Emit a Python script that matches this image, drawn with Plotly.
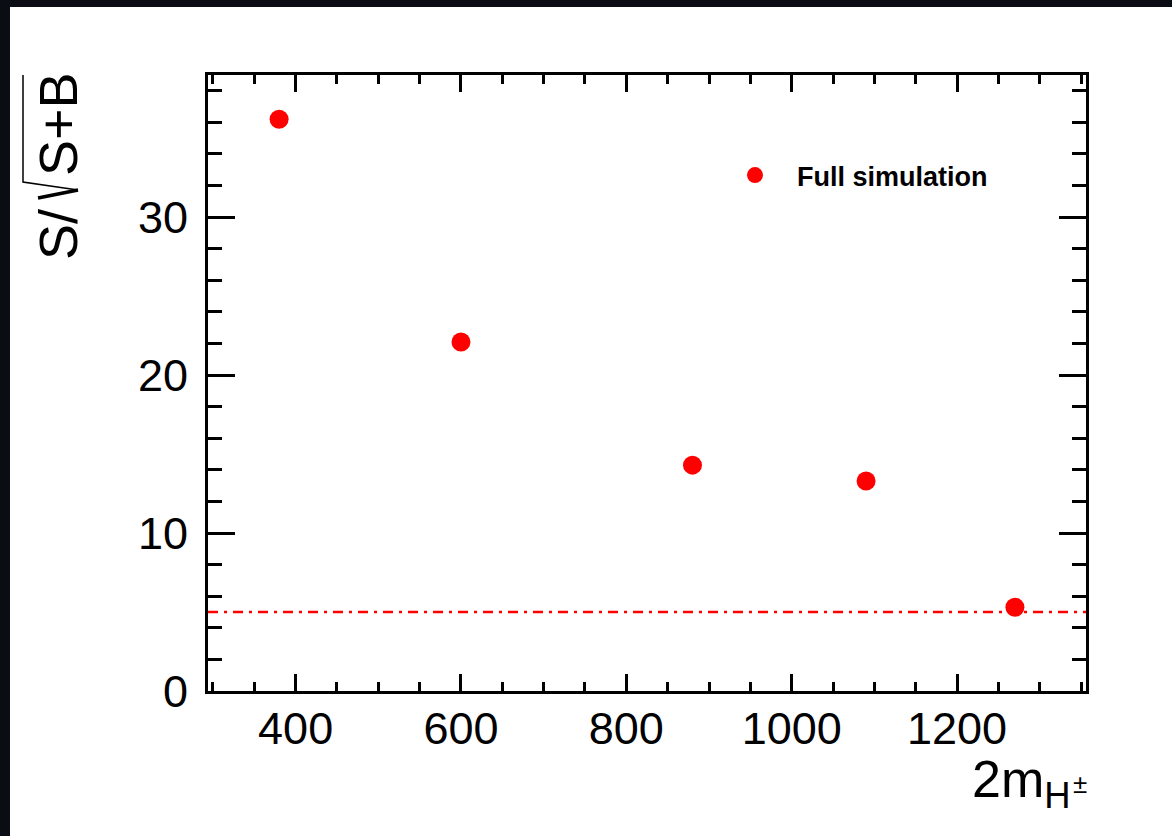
import plotly.graph_objects as go

# ---- data ----
mass = [380, 600, 880, 1090, 1270]
significance = [36.2, 22.1, 14.3, 13.3, 5.3]
threshold = 5.0
series_name = "Full simulation"
x_range = [294, 1356]
y_range = [0, 39]
x_major_step = 200
x_minor_step = 50
y_major_step = 10
y_minor_step = 2
x_title_main = "2m<sub>H</sub>"
x_title_sup = "±"
y_title_left = "S/"
y_title_right = "S+B"

# ---- layout geometry (pixels) ----
W, H = 1172, 836
L, R, T, B = 208, 86, 75, 145
pw = W - L - R
ph = H - T - B


def px_x(px):
    return (px - L) / pw


def px_y(py):
    return (H - B - py) / ph


FONT = "Liberation Sans, Arial, Helvetica, sans-serif"
RED = "#ff0000"

fig = go.Figure()
# threshold line spanning the full x axis range (drawn beneath the markers)
fig.add_trace(go.Scatter(
    x=x_range, y=[threshold, threshold], mode="lines", showlegend=False,
    hoverinfo="skip", line=dict(color=RED, width=2.5, dash="10px,6px,3px,6px"),
))
fig.add_trace(go.Scatter(
    x=mass, y=significance, mode="markers", name=series_name,
    marker=dict(color=RED, size=19, line=dict(width=0)),
))

axis_common = dict(
    showline=True, linecolor="black", linewidth=3, mirror="allticks",
    ticks="inside", tickcolor="black", tickwidth=3,
    showgrid=False, zeroline=False,
    tickfont=dict(family=FONT, size=45, color="black"),
)
fig.update_xaxes(range=x_range, tickmode="linear", tick0=0, dtick=x_major_step,
                 ticklen=17, ticklabelstandoff=-4,
                 minor=dict(tick0=0, dtick=x_minor_step, ticks="inside", ticklen=9,
                            tickcolor="black", tickwidth=3, showgrid=False),
                 **axis_common)
fig.update_yaxes(range=y_range, tickmode="linear", tick0=0, dtick=y_major_step,
                 ticklen=27, ticklabelstandoff=8,
                 minor=dict(tick0=0, dtick=y_minor_step, ticks="inside", ticklen=14,
                            tickcolor="black", tickwidth=3, showgrid=False),
                 **axis_common)

# white page on a dark frame
fig.add_shape(type="rect", xref="paper", yref="paper", layer="below",
              x0=px_x(10), x1=px_x(W + 20), y0=px_y(H + 20), y1=px_y(7),
              fillcolor="white", line=dict(width=0))

# x title
fig.add_annotation(text=x_title_main, xref="paper", yref="paper",
                   x=px_x(1073), y=px_y(748), xanchor="right", yanchor="top",
                   showarrow=False, font=dict(family=FONT, size=52, color="black"))
fig.add_annotation(text=x_title_sup, xref="paper", yref="paper",
                   x=px_x(1071), y=px_y(784), xanchor="left", yanchor="middle",
                   showarrow=False, font=dict(family=FONT, size=26, color="black"))

# y title pieces
fig.add_annotation(text=y_title_left, xref="paper", yref="paper", textangle=-90,
                   x=px_x(58), y=px_y(235), xanchor="center", yanchor="middle",
                   showarrow=False, font=dict(family=FONT, size=54, color="black"))
fig.add_annotation(text=y_title_right, xref="paper", yref="paper", textangle=-90,
                   x=px_x(58), y=px_y(124), xanchor="center", yanchor="middle",
                   showarrow=False, font=dict(family=FONT, size=54, color="black"))


# radical sign
def seg_path(pts):
    return "M " + " L ".join(f"{px_x(a):.5f},{px_y(b):.5f}" for a, b in pts)


fig.add_shape(type="path", xref="paper", yref="paper",
              path=seg_path([(38, 198), (78, 190)]),
              line=dict(color="black", width=3.5))
fig.add_shape(type="path", xref="paper", yref="paper",
              path=seg_path([(78, 190), (23, 182), (23, 75)]),
              line=dict(color="black", width=1.5))

fig.update_layout(
    width=W, height=H,
    margin=dict(l=L, r=R, t=T, b=B, autoexpand=False),
    paper_bgcolor="#0a0e14", plot_bgcolor="white",
    showlegend=True,
    legend=dict(x=px_x(713), y=px_y(151), xanchor="left", yanchor="top",
                bgcolor="rgba(0,0,0,0)", itemsizing="trace", itemwidth=74,
                font=dict(family=FONT, size=27, color="black", weight="bold")),
)

fig.write_html(
    "out.html",
    config={"displayModeBar": False},
    post_script="document.body.style.margin='0';document.body.style.overflow='hidden';"
                "document.body.style.background='#0a0e14';",
)
